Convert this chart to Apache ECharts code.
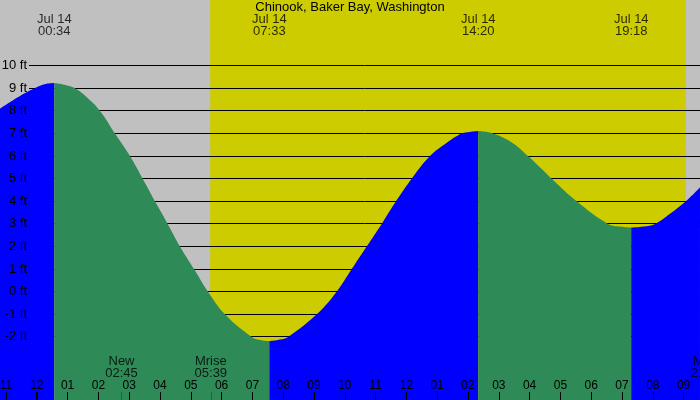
<!DOCTYPE html>
<html><head><meta charset="utf-8">
<script src="https://cdn.jsdelivr.net/npm/echarts@6/dist/echarts.min.js"></script>
<style>html,body{margin:0;padding:0;background:#c0c0c0}#c{width:700px;height:400px}</style>
</head><body><div id="c"></div>
<script>
// ---- data (hours since Jul 14 00:00, heights in ft) ----
const chartTitle = 'Chinook, Baker Bay, Washington';
const tideTimes = [
  -1.195, -0.546, 0.104, 0.35, 0.567,
  0.9, 1.240, 1.65, 2.052, 2.539, 3.026, 3.438, 3.838, 4.250, 4.649, 5.104, 5.558, 6.110, 6.977, 7.3, 7.55,
  7.9, 8.16, 9.088, 9.737, 10.224, 10.711, 11.198, 11.662, 12.172, 12.766, 13.3, 13.795, 14.05, 14.333,
  14.812, 15.4, 15.948, 16.718, 17.529, 18.545, 18.95, 19.3,
  19.7, 20.071, 20.558, 21.101, 21.532
];
const tideHeights = [
  8.10, 8.66, 9.11, 9.21, 9.24,
  9.16, 9.0, 8.57, 8, 7, 6, 5, 4, 3, 2, 1, 0, -1, -2, -2.15, -2.19,
  -2.12, -2, -1, 0, 1, 2, 3, 4, 5, 6, 6.58, 7, 7.07, 7.11,
  7, 6.62, 6, 5, 4, 3, 2.88, 2.83,
  2.88, 3, 3.45, 4.04, 4.61
];
const extremeTimes = [0.567, 7.55, 14.333, 19.3];
const extremeLabels = ['Jul 14\n00:34', 'Jul 14\n07:33', 'Jul 14\n14:20', 'Jul 14\n19:18'];
const segmentColors = ['#0000ff', '#2e8b57', '#0000ff', '#2e8b57', '#0000ff'];
const heightTicks = [10, 9, 8, 7, 6, 5, 4, 3, 2, 1, 0, -1, -2];
const hourTicks = [-1,0,1,2,3,4,5,6,7,8,9,10,11,12,13,14,15,16,17,18,19,20,21];
const dayStartTicks = [0];
const sunriseTime = 5.63, sunsetTime = 21.07;
const moonTimes = [2.75, 5.65, 21.76];
const moonLabels = ['New\n02:45', 'Mrise\n05:39', 'Mset\n21:46'];
const moonTickTimes = [2.75, 5.65];

// ---- layout (pixel mapping) ----
const W = 700, H = 400;
const x0 = 36.8, kx = 30.8;           // px of midnight, px per hour
const y10 = 65.7, ky = 22.6;          // px of 10 ft, px per ft
const xMin = -x0 / kx, xMax = (W - x0) / kx;
const yMax = 10 + y10 / ky, yMin = 10 - (H - y10) / ky;
const pxToY = p => 10 - (p - y10) / ky;
const pxToX = p => (p - x0) / kx;
const snapY = h => pxToY(Math.round(y10 + (10 - h) * ky - 0.5) + 0.5);
const FONT = 'Liberation Sans';

const pts = tideTimes.map((t, i) => [t, tideHeights[i]]);
const bounds = [-Infinity, ...extremeTimes, Infinity];
const tideSeries = segmentColors.map((c, i) => ({
  type: 'line', z: 3,
  data: pts.filter(p => p[0] >= bounds[i] - 1e-9 && p[0] <= bounds[i + 1] + 1e-9),
  smooth: 0.4, showSymbol: false, symbol: 'none',
  lineStyle: { width: 0 }, itemStyle: { color: c },
  areaStyle: { color: c, opacity: 1, origin: 'start' },
  silent: true, animation: false
}));

const textLabel = (fs) => ({ show: true, position: 'inside', color: '#000', fontFamily: FONT, fontSize: fs, lineHeight: 12 });

const option = {
  animation: false,
  backgroundColor: '#c0c0c0',
  title: { text: chartTitle, left: 'center', top: 1, padding: 0,
    textStyle: { fontFamily: FONT, fontSize: 13, fontWeight: 'normal', color: '#000' } },
  grid: { left: 0, right: 0, top: 0, bottom: 0, containLabel: false, outerBoundsMode: 'none' },
  xAxis: {
    type: 'value', min: xMin, max: xMax, z: 5,
    splitLine: { show: false }, axisLine: { show: false, onZero: false },
    axisTick: { show: true, inside: true, length: 8, customValues: hourTicks, lineStyle: { color: '#000', width: 1 } },
    axisLabel: { show: true, inside: true, margin: 14, verticalAlign: 'middle', customValues: hourTicks,
      color: '#000', fontFamily: FONT, fontSize: 12,
      formatter: v => { const h = ((Math.round(v) % 12) + 12) % 12; return h === 0 ? '12' : String(h).padStart(2, '0'); } }
  },
  yAxis: {
    type: 'value', min: yMin, max: yMax, z: 5,
    splitLine: { show: false }, axisLine: { show: false, onZero: false }, axisTick: { show: false },
    axisLabel: { show: true, inside: true, margin: 27, align: 'right', customValues: heightTicks,
      color: '#000', fontFamily: FONT, fontSize: 13, formatter: v => Math.round(v) + ' ft' }
  },
  series: [
    { // daylight band
      type: 'line', z: 1, data: [[xMin, yMin]], symbol: 'none', lineStyle: { opacity: 0 }, silent: true,
      markArea: { z: 1, silent: true, itemStyle: { color: '#cccc00', opacity: 1 },
        data: [[{ xAxis: sunriseTime }, { xAxis: sunsetTime }]] }
    },
    { // height gridlines
      type: 'line', z: 2, data: [[xMin, yMin]], symbol: 'none', lineStyle: { opacity: 0 }, silent: true,
      markLine: { z: 2, silent: true, symbol: 'none', label: { show: false },
        lineStyle: { color: '#000', width: 1, type: 'solid' },
        data: heightTicks.map(h => [{ coord: [pxToX(29), snapY(h)] }, { coord: [xMax, snapY(h)] }]) }
    },
    ...tideSeries,
    { // special ticks
      type: 'line', z: 6, data: [[xMin, yMin]], symbol: 'none', lineStyle: { opacity: 0 }, silent: true,
      markLine: { z: 6, silent: true, symbol: 'none', label: { show: false },
        data: [
          ...moonTickTimes.map(t => [{ coord: [t, yMin], lineStyle: { color: '#ff0000', width: 1, type: 'solid' } }, { coord: [t, pxToY(392)] }]),
          ...dayStartTicks.map(t => [{ coord: [t, yMin], lineStyle: { color: '#000', width: 2, type: 'solid' } }, { coord: [t, pxToY(392)] }])
        ] }
    },
    { // extreme labels
      type: 'scatter', z: 7, clip: false, symbolSize: 1, itemStyle: { color: 'rgba(0,0,0,0)' }, silent: true,
      data: extremeTimes.map(t => [t, pxToY(25.5)]),
      label: { ...textLabel(13), formatter: p => extremeLabels[p.dataIndex] }
    },
    { // moon labels
      type: 'scatter', z: 7, clip: false, symbolSize: 1, itemStyle: { color: 'rgba(0,0,0,0)' }, silent: true,
      data: moonTimes.map(t => [t, pxToY(367.8)]),
      label: { ...textLabel(13), formatter: p => moonLabels[p.dataIndex] }
    }
  ]
};
const chart = echarts.init(document.getElementById('c'), null, { renderer: 'canvas' });
chart.setOption(option);
</script></body></html>
